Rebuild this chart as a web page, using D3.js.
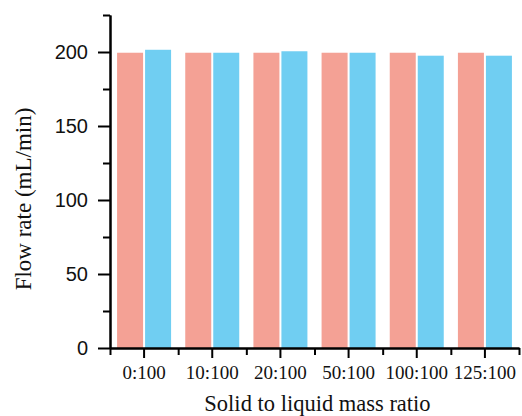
<!DOCTYPE html>
<html>
<head>
<meta charset="utf-8">
<script src="https://cdn.jsdelivr.net/npm/d3@7"></script>
<style>
  body { margin: 0; background: #fff; }
  svg { display: block; }
</style>
</head>
<body>
<script>
// categories and the two series
var categories = ["0:100", "10:100", "20:100", "50:100", "100:100", "125:100"];
var seriesA = [199.5, 199.5, 199.5, 199.5, 199.5, 199.5];   // pink
var seriesB = [201.5, 199.5, 200.5, 199.5, 197.5, 197.5];   // blue
var yMajor = [0, 50, 100, 150, 200];
var yMinor = [25, 75, 125, 175, 225];

var w = 522, h = 416;
var mLeft = 110, mRight = 519, mTop = 15, mBottom = 348;

var svg = d3.select("body").append("svg")
  .attr("width", w)
  .attr("height", h);

var x = d3.scaleBand()
  .domain(categories)
  .range([mLeft, mRight])
  .padding(0);

var inner = d3.scaleBand()
  .domain(["a", "b"])
  .range([0, x.bandwidth()])
  .paddingInner(0.0714)
  .paddingOuter(0.253);

var y = d3.scaleLinear()
  .domain([0, 225])
  .range([mBottom, mTop]);

var rows = categories.map(function (c, i) {
  return { cat: c, a: seriesA[i], b: seriesB[i] };
});

var groups = svg.append("g").selectAll("g")
  .data(rows)
  .enter().append("g")
  .attr("transform", function (d) { return "translate(" + x(d.cat) + ",0)"; });

groups.append("rect")
  .attr("x", inner("a"))
  .attr("width", inner.bandwidth())
  .attr("y", function (d) { return y(d.a); })
  .attr("height", function (d) { return y(0) - y(d.a); })
  .attr("fill", "#F4A195");

groups.append("rect")
  .attr("x", inner("b"))
  .attr("width", inner.bandwidth())
  .attr("y", function (d) { return y(d.b); })
  .attr("height", function (d) { return y(0) - y(d.b); })
  .attr("fill", "#70CEF2");

// y axis: major ticks with labels, minor ticks without
var yAxis = svg.append("g")
  .attr("transform", "translate(" + mLeft + ",0)")
  .call(d3.axisLeft(y).tickValues(yMajor).tickSize(12).tickSizeOuter(0).tickPadding(10));
yAxis.selectAll("text")
  .style("font-family", "Arial, 'Liberation Sans', sans-serif")
  .style("font-size", "20px")
  .attr("fill", "#111");

svg.append("g")
  .attr("transform", "translate(" + mLeft + ",0)")
  .call(d3.axisLeft(y).tickValues(yMinor).tickSize(7).tickSizeOuter(0).tickFormat(""));

// x axis: category ticks with labels, minor ticks at band edges
var xAxis = svg.append("g")
  .attr("transform", "translate(0," + mBottom + ")")
  .call(d3.axisBottom(x).tickSize(10).tickSizeOuter(0).tickPadding(8));
xAxis.selectAll("text")
  .style("font-family", "'Liberation Serif', 'Times New Roman', serif")
  .style("font-size", "19px")
  .attr("fill", "#111");

var xEdge = d3.scaleLinear().domain([0, categories.length]).range([mLeft, mRight]);
svg.append("g")
  .attr("transform", "translate(0," + mBottom + ")")
  .call(d3.axisBottom(xEdge).tickValues(d3.range(categories.length + 1)).tickSize(7).tickSizeOuter(0).tickFormat(""));

svg.selectAll(".domain, .tick line")
  .attr("stroke", "#000")
  .attr("stroke-width", 2);

// axis titles
svg.append("text")
  .attr("x", (mLeft + mRight) / 2 + 3)
  .attr("y", 411)
  .attr("text-anchor", "middle")
  .style("font-family", "'Liberation Serif', 'Times New Roman', serif")
  .style("font-size", "22.5px")
  .attr("fill", "#111")
  .text("Solid to liquid mass ratio");

svg.append("text")
  .attr("transform", "translate(31,199) rotate(-90)")
  .attr("text-anchor", "middle")
  .style("font-family", "'Liberation Serif', 'Times New Roman', serif")
  .style("font-size", "23px")
  .attr("fill", "#111")
  .text("Flow rate (mL/min)");
</script>
</body>
</html>
